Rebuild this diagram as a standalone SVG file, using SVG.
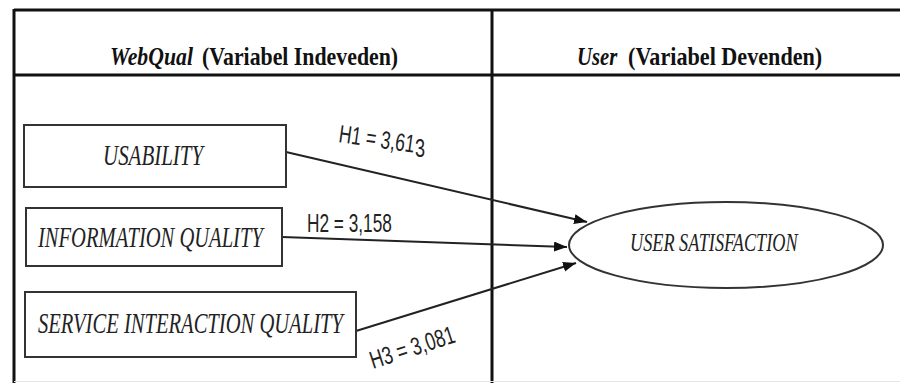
<svg xmlns="http://www.w3.org/2000/svg" width="900" height="383" viewBox="0 0 900 383">
  <style>
    .grid { stroke: #111; stroke-width: 3; fill: none; }
    .box { fill: #fff; stroke: #333; stroke-width: 2; }
    .head { font-family: "Liberation Serif", "Times New Roman", serif; font-size: 25px; font-weight: bold; fill: #111; }
    .it { font-style: italic; }
    .lbl { font-family: "Liberation Serif", "Times New Roman", serif; font-size: 29px; font-style: italic; fill: #222; }
    .val { font-family: "Liberation Sans", Arial, sans-serif; font-size: 25px; fill: #222; }
    .edge { stroke: #222; stroke-width: 2; fill: none; marker-end: url(#arrow); }
  </style>
  <defs>
    <marker id="arrow" markerUnits="userSpaceOnUse" markerWidth="14" markerHeight="12" refX="13" refY="5" orient="auto">
      <path d="M0,0 L13,5 L0,10 z" fill="#111"/>
    </marker>
  </defs>

  <rect width="900" height="383" fill="#fff"/>

  <!-- table frame and column headings (glyphs narrowed horizontally) -->
  <g id="table">
    <line class="grid" x1="14" y1="10" x2="900" y2="10"/>
    <line class="grid" x1="14" y1="75" x2="900" y2="75"/>
    <line class="grid" x1="14" y1="9" x2="14" y2="383"/>
    <line class="grid" x1="492" y1="9" x2="492" y2="383"/>
    <line x1="14" y1="381.5" x2="900" y2="381.5" stroke="#e6e6e6" stroke-width="1"/>
    <text class="head it" transform="translate(110,65) scale(0.855,1)" textLength="97" lengthAdjust="spacingAndGlyphs">WebQual</text>
    <text class="head" transform="translate(202,65) scale(0.86,1)" textLength="228" lengthAdjust="spacingAndGlyphs">(Variabel Indeveden)</text>
    <text class="head it" transform="translate(577,65) scale(0.82,1)" textLength="49" lengthAdjust="spacingAndGlyphs">User</text>
    <text class="head" transform="translate(628,65) scale(0.875,1)" textLength="222" lengthAdjust="spacingAndGlyphs">(Variabel Devenden)</text>
  </g>

  <!-- connectors with their path coefficients -->
  <g id="connectors">
    <line class="edge" x1="286" y1="152" x2="587" y2="222"/>
    <line class="edge" x1="282" y1="237" x2="567" y2="247"/>
    <line class="edge" x1="356" y1="331" x2="576" y2="263"/>
    <text class="val" transform="translate(338,142) rotate(8) scale(0.7,1)" textLength="109" lengthAdjust="spacingAndGlyphs">H1 = 3,61</text>
    <text class="val" transform="translate(415,157) scale(0.72,1)" textLength="14" lengthAdjust="spacingAndGlyphs">3</text>
    <text class="val" transform="translate(307,232) scale(0.69,1)" textLength="123" lengthAdjust="spacingAndGlyphs">H2 = 3,158</text>
    <text class="val" transform="translate(373,369) rotate(-18) scale(0.715,1)" textLength="123" lengthAdjust="spacingAndGlyphs">H3 = 3,081</text>
  </g>

  <!-- independent variables -->
  <g id="usability">
    <rect class="box" x="24" y="125" width="262" height="62"/>
    <text class="lbl" transform="translate(103,165) scale(0.72,1)" textLength="139" lengthAdjust="spacingAndGlyphs">USABILITY</text>
  </g>
  <g id="information-quality">
    <rect class="box" x="26" y="208" width="256" height="58"/>
    <text class="lbl" transform="translate(38,247) scale(0.707,1)" textLength="318" lengthAdjust="spacingAndGlyphs">INFORMATION QUALITY</text>
  </g>
  <g id="service-interaction-quality">
    <rect class="box" x="25" y="292" width="331" height="65"/>
    <text class="lbl" transform="translate(38,333) scale(0.709,1)" textLength="430" lengthAdjust="spacingAndGlyphs">SERVICE INTERACTION QUALITY</text>
  </g>

  <!-- dependent variable -->
  <g id="user-satisfaction">
    <ellipse cx="726" cy="245" rx="157" ry="43" fill="#fff" stroke="#333" stroke-width="2"/>
    <text class="lbl" transform="translate(630,251) scale(0.69,1)" textLength="243" lengthAdjust="spacingAndGlyphs" style="font-size:26px">USER SATISFACTION</text>
  </g>
</svg>
